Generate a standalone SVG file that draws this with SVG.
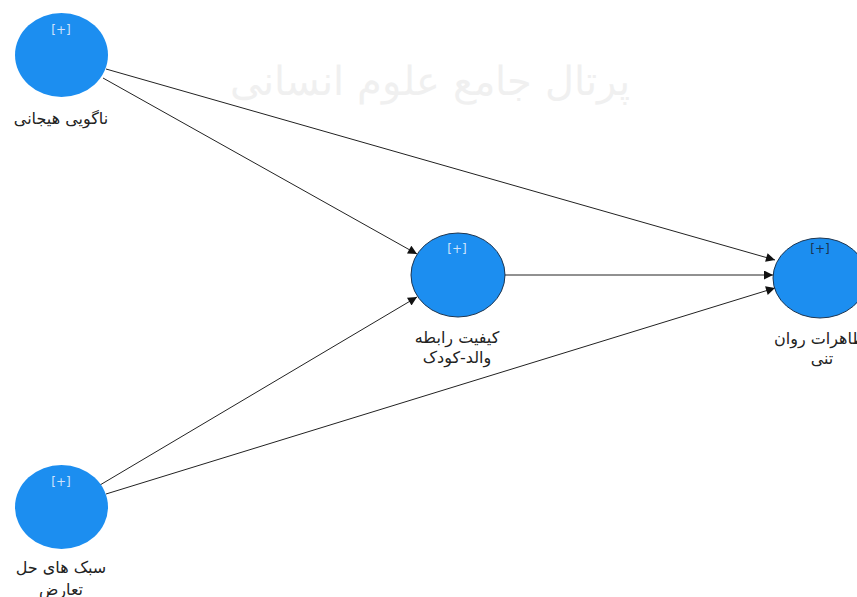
<svg xmlns="http://www.w3.org/2000/svg" width="857" height="597" viewBox="0 0 857 597">
<style>
.node{fill:#1c8ef0}
.out{stroke:#1d3550;stroke-width:1}
.plus{font-family:"DejaVu Sans",sans-serif;font-size:12px;fill:#cfe3fb;text-anchor:middle}
.lbl{font-family:"DejaVu Sans","Noto Sans",sans-serif;font-size:16px;fill:#222;text-anchor:middle}
.edge{stroke:#222;stroke-width:1;fill:none;marker-end:url(#arr)}
.wm{font-family:"DejaVu Serif",serif;font-size:40px;fill:#f0f0f0;text-anchor:middle}
</style>
<defs>
<marker id="arr" viewBox="0 0 10 10" refX="10" refY="5" markerWidth="10" markerHeight="9" markerUnits="userSpaceOnUse" orient="auto">
<path d="M0,0 L10,5 L0,10 z" fill="#111"/>
</marker>
</defs>
<rect width="857" height="597" fill="#ffffff"/>
<text class="wm" x="430" y="95">پرتال جامع علوم انسانی</text>
<g id="connectors">
<line class="edge" x1="106" y1="69" x2="775" y2="260"/>
<line class="edge" x1="103" y1="78" x2="417" y2="254"/>
<line class="edge" x1="505" y1="275" x2="773" y2="275"/>
<line class="edge" x1="100" y1="485" x2="417" y2="297"/>
<line class="edge" x1="106" y1="494" x2="775" y2="288"/>
</g>
<g id="node1">
<ellipse class="node" cx="61.5" cy="55" rx="46.5" ry="42"/>
<text class="plus" x="61" y="34">[+]</text>
<text class="lbl" x="61" y="124">ناگویی هیجانی</text>
</g>
<g id="node2">
<ellipse class="node out" cx="458" cy="275" rx="47" ry="42"/>
<text class="plus" x="457" y="253">[+]</text>
<text class="lbl" x="457" y="343">کیفیت رابطه</text>
<text class="lbl" x="457" y="363">والد-کودک</text>
</g>
<g id="node3">
<ellipse class="node out" cx="820" cy="278" rx="47" ry="40"/>
<text class="plus" x="820" y="253" style="fill:#1a3350">[+]</text>
<text class="lbl" x="822" y="344">تظاهرات روان</text>
<text class="lbl" x="822" y="364">تنی</text>
</g>
<g id="node4">
<ellipse class="node" cx="61.5" cy="507" rx="46.5" ry="42"/>
<text class="plus" x="61" y="486">[+]</text>
<text class="lbl" x="61" y="573">سبک های حل</text>
<text class="lbl" x="61" y="595">تعارض</text>
</g>
</svg>
